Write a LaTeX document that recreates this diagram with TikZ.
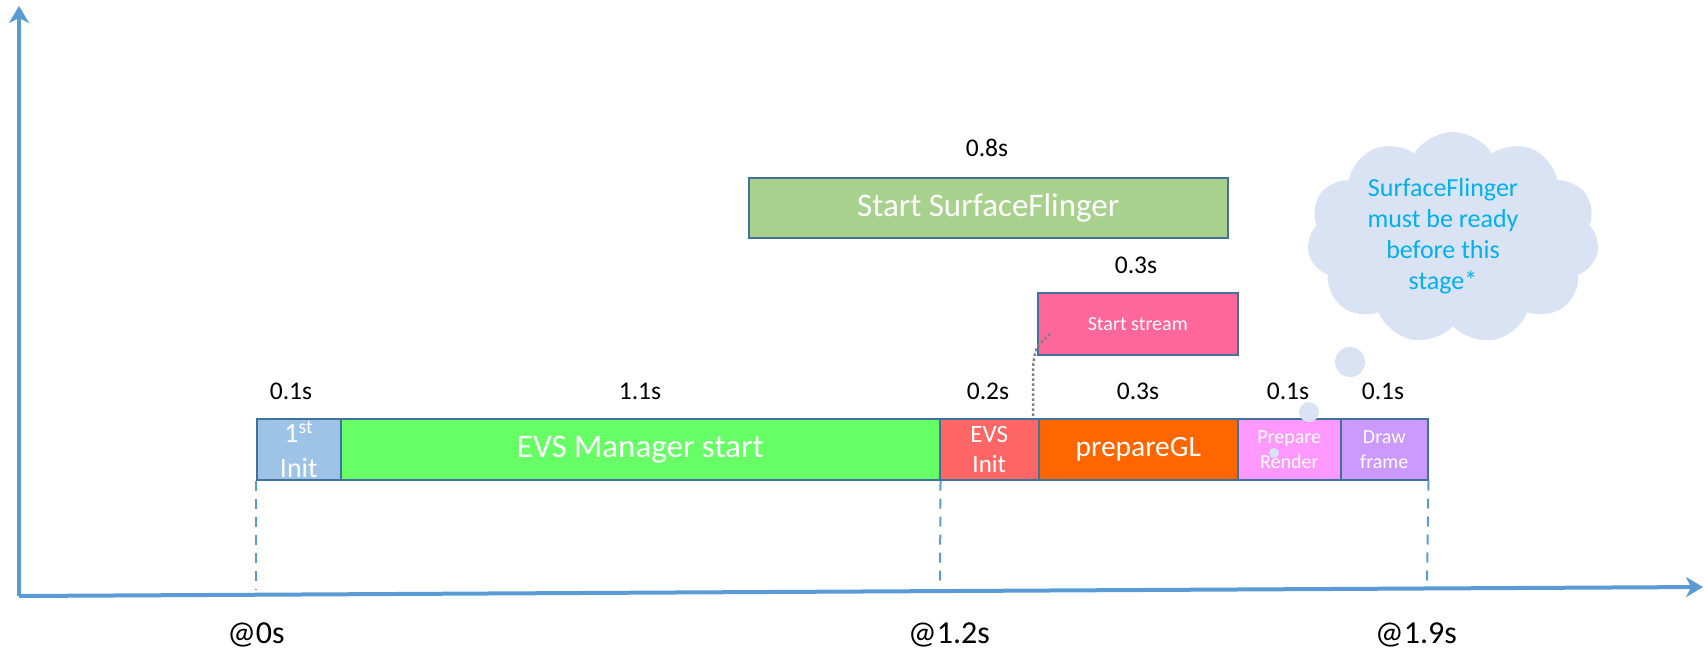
\documentclass[tikz,border=0pt]{standalone}
\usepackage{fontspec}
\setmainfont{Carlito}
\usetikzlibrary{arrows.meta,shapes.symbols}

\definecolor{axisblue}{HTML}{5B9BD5}
\definecolor{boxedge}{HTML}{41719C}
\definecolor{initblue}{HTML}{9DC3E6}
\definecolor{mgrgreen}{HTML}{66FF66}
\definecolor{evsred}{HTML}{FF6666}
\definecolor{glorange}{HTML}{FF6600}
\definecolor{rendpink}{HTML}{FF99FF}
\definecolor{framelilac}{HTML}{CC99FF}
\definecolor{sfgreen}{HTML}{A9D18E}
\definecolor{streampink}{HTML}{FF6699}
\definecolor{cloudfill}{HTML}{DAE3F3}
\definecolor{notecyan}{HTML}{00B0F0}

\begin{document}
\begin{tikzpicture}[x=1pt,y=-1pt,
  stage/.style={draw=boxedge, line width=1.5pt, anchor=north west,
    inner sep=0pt, text=white, align=center},
  bigtext/.style={font=\fontsize{33}{40}\selectfont},
  dur/.style={anchor=base, text=black, font=\fontsize{25.5}{30}\selectfont},
  stamp/.style={anchor=base, text=black, font=\fontsize{32}{38}\selectfont},
  axisline/.style={draw=axisblue, line width=4pt,
    -{Stealth[length=17pt,width=20pt,inset=5pt]}},
  guide/.style={draw=axisblue, line width=2pt, dash pattern=on 10pt off 8pt},
  conn/.style={draw=gray, line width=2.5pt, dash pattern=on 2.5pt off 2.5pt},
  bubble/.style={circle, fill=cloudfill, inner sep=0pt},
  thought/.style={cloud, cloud puffs=11, cloud puff arc=115, cloud ignores aspect,
    fill=cloudfill, inner sep=0pt, minimum width=292, minimum height=212},
]
\useasboundingbox (0,0) rectangle (1704,648);

% axes
\coordinate (origin) at (19,596);
\coordinate (ytip) at (19,6);
\coordinate (xtip) at (1703,587);
\draw[axisline] (origin) -- (ytip);
\draw[axisline] (origin) -- (xtip);

% main timeline stages
\node[stage, fill=initblue, minimum width=84, minimum height=61,
  font=\fontsize{28}{35}\selectfont] (init1) at (256,418) {1\textsuperscript{st}\\Init};
\node[stage, fill=mgrgreen, minimum width=599, minimum height=61, bigtext] (evsm) at (340,418) {EVS Manager start};
\node[stage, fill=evsred, minimum width=99, minimum height=61,
  font=\fontsize{25}{30}\selectfont] (evsi) at (939,418) {EVS\\Init};
\node[stage, fill=glorange, minimum width=199, minimum height=61,
  font=\fontsize{29.5}{35}\selectfont] (pgl) at (1038,418) {prepareGL};
\node[stage, fill=rendpink, minimum width=103, minimum height=61,
  font=\fontsize{20}{25}\selectfont] (prend) at (1237,418) {Prepare\\Render};
\node[stage, fill=framelilac, minimum width=87, minimum height=61,
  font=\fontsize{20}{25}\selectfont] (drawf) at (1340,418) {Draw\\frame};

% parallel stages
\node[stage, fill=sfgreen, minimum width=479, minimum height=60, bigtext] (sf) at (748,177) {Start SurfaceFlinger};
\node[stage, fill=streampink, minimum width=200, minimum height=62,
  font=\fontsize{20}{25}\selectfont] (ss) at (1037,292) {Start stream};

% durations
\node[dur] (d1) at (291,399) {0.1s};
\node[dur] (d2) at (640,399) {1.1s};
\node[dur] (d3) at (988,399) {0.2s};
\node[dur] (d4) at (1138,399) {0.3s};
\node[dur] (d5) at (1288,399) {0.1s};
\node[dur] (d6) at (1383,399) {0.1s};
\node[dur] (dsf) at (987,156) {0.8s};
\node[dur] (dss) at (1136,273) {0.3s};

% time marks
\coordinate (g0) at (256,590);
\coordinate (g12) at (940,588);
\coordinate (g19) at (1427,586);
\draw[guide] (init1.south west) -- (g0);
\draw[guide] (evsm.south east) -- (g12);
\draw[guide] (drawf.south east) -- (g19);
\node[stamp] (t0) at (256,643) {@0s};
\node[stamp] (t12) at (949,643) {@1.2s};
\node[stamp] (t19) at (1416,643) {@1.9s};

% stream start hooks into prepareGL
\coordinate (sstail) at (1050,334);
\coordinate (glhead) at (1033,417);
\draw[conn] (sstail) .. controls (1035,348) .. (1033,368) -- (glhead);

% thought cloud
\node[thought] (cloudnote) at (1453,238) {};
\node[align=center, text=notecyan, font=\fontsize{26}{31}\selectfont] (note) at (1443,236)
  {SurfaceFlinger\\must be ready\\before this\\stage*};
\node[bubble, minimum size=30] (b1) at (1350,362) {};
\node[bubble, minimum size=20] (b2) at (1309,412) {};
\node[bubble, minimum size=10] (b3) at (1274,453) {};
\end{tikzpicture}
\end{document}
